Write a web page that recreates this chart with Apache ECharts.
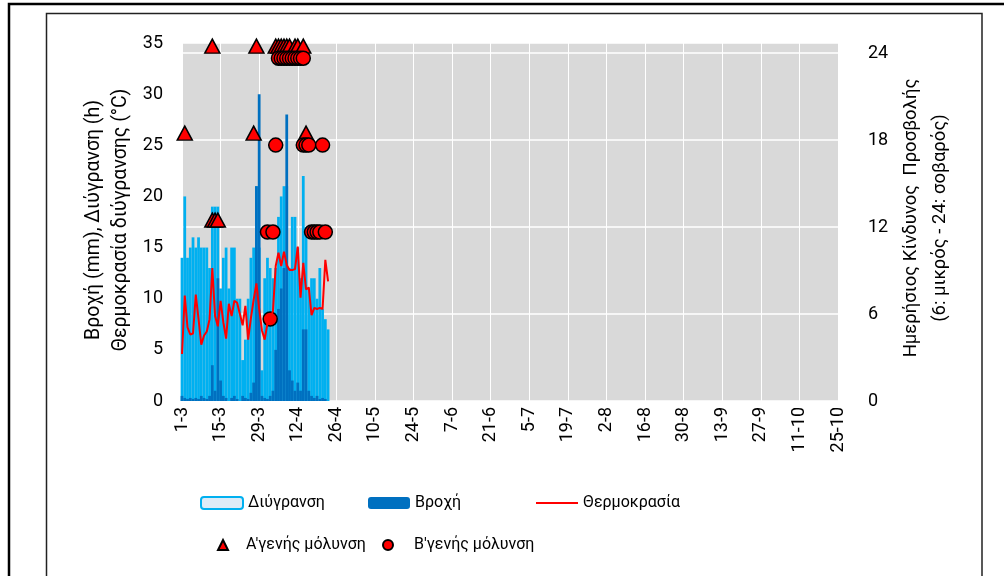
<!DOCTYPE html>
<html>
<head>
<meta charset="utf-8">
<script src="https://cdn.jsdelivr.net/npm/echarts@6/dist/echarts.min.js"></script>
<style>
  html, body { margin: 0; padding: 0; background: #fff; }
  #chart { width: 1004px; height: 576px; }
</style>
</head>
<body>
<div id="chart"></div>
<script>
// day labels 1-3 .. 25-10
const months = [3, 4, 5, 6, 7, 8, 9, 10];
const monthDays = [31, 30, 31, 30, 31, 31, 30, 25];
const days = [];
months.forEach((m, i) => {
  for (let d = 1; d <= monthDays[i]; d++) days.push(d + "-" + m);
});

// daily values from 1-3 onwards
const humidity = [14, 20, 14, 15, 16, 15, 16, 15, 15, 15, 13, 19, 19, 19, 11, 14, 15, 11, 15, 15,
  10, 10, 4, 6, 10, 14, 15, 21, 15, 3, 12, 14, 13, 12, 13, 18, 20, 21, 21, 13,
  18, 18, 15, 12, 22, 17, 11, 12, 12, 10, 13, 9, 8, 7];
const rain = [0.5, 0.3, 0.2, 0.3, 0.2, 0.3, 0.2, 0.5, 0.3, 0.2, 0.5, 3.5, 1, 12, 2, 0.5, 0.3, 0, 0.3, 0.5,
  0.2, 0, 0.5, 0.3, 0.2, 0.8, 1.8, 21, 30, 0.5, 0.3, 0.2, 0.5, 1, 5, 9, 11, 13, 28, 3,
  2, 1, 1.8, 1, 7, 7, 1, 0.5, 0.3, 0.5, 0.2, 0.3, 0.2, 0];
const temperature = [4.6, 10.3, 7.2, 6.5, 6.6, 10.4, 8.0, 5.5, 6.4, 6.8, 8.0, 13.0, 8.3, 7.3, 9.8, 7.7, 6.1, 9.5, 8.3, 9.8,
  9.6, 8.5, 7.4, 9.3, 6.0, 8.1, 9.9, 11.5, 9.0, 6.9, 6.0, 7.6, 8.0, 8.8, 13.2, 14.5, 13.2, 14.6, 13.3, 12.8,
  12.8, 12.9, 15.1, 10.1, 13.5, 10.9, 11.1, 8.4, 9.1, 9.0, 9.1, 9.0, 13.8, 11.7];

// infection risk: [day index, risk level]
const primaryInfection = [[1, 18], [11, 24], [11, 12], [12, 12], [13, 12], [26, 18], [27, 24],
  [34, 24], [35, 24], [36, 24], [37, 24], [38, 24], [39, 24], [41, 24], [42, 24], [44, 24], [45, 18]];
const secondaryInfection = [[31, 12], [33, 12], [32, 6], [34, 18],
  [35, 24], [36, 24], [37, 24], [38, 24], [39, 24], [40, 24], [41, 24], [42, 24], [43, 24], [44, 24],
  [44, 18], [45, 18], [46, 18], [51, 18],
  [47, 12], [48, 12], [49, 12], [50, 12], [52, 12]];

const FONT = "Roboto";
const chart = echarts.init(document.getElementById("chart"));

function legendItem(item, left, top, extra) {
  return Object.assign({
    data: [item], left: left, top: top, padding: 0,
    itemWidth: 42, itemHeight: 12,
    textStyle: { fontFamily: FONT, fontSize: 16, color: "#000" }
  }, extra || {});
}

const option = {
  animation: false,
  textStyle: { fontFamily: FONT },
  grid: {
    left: 182, right: 166, top: 43, bottom: 175,
    show: true, backgroundColor: "#D9D9D9", borderWidth: 0
  },
  legend: [
    legendItem({ name: "Διύγρανση", itemStyle: { color: "#DDEBF7", borderColor: "#00B0F0", borderWidth: 2 } }, 200, 495),
    legendItem("Βροχή", 368, 495),
    legendItem({ name: "Θερμοκρασία", icon: "rect" }, 536, 495, { itemHeight: 2 }),
    legendItem("Α'γενής μόλυνση", 217, 537, {
      itemWidth: 10, itemHeight: 10,
      textStyle: { fontFamily: FONT, fontSize: 16, color: "#000", padding: [0, 0, 0, 13] }
    }),
    legendItem("Β'γενής μόλυνση", 382, 537, {
      itemWidth: 10, itemHeight: 10,
      textStyle: { fontFamily: FONT, fontSize: 16, color: "#000", padding: [0, 0, 0, 16] }
    })
  ],
  xAxis: {
    type: "category",
    data: days,
    boundaryGap: false,
    axisLine: { show: false },
    axisTick: { show: false, interval: 13 },
    axisLabel: { interval: 13, rotate: 90, margin: 6, fontSize: 18, color: "#000", fontFamily: FONT },
    splitLine: { show: true, interval: 13, lineStyle: { color: "#fff", width: 1 } }
  },
  yAxis: [
    {
      type: "value", min: 0, max: 35, interval: 5,
      axisLine: { show: false }, axisTick: { show: false },
      splitLine: { show: false },
      axisLabel: { margin: 19, fontSize: 18, color: "#000", fontFamily: FONT }
    },
    {
      type: "value", min: 0, max: 24.7, interval: 6,
      axisLine: { show: false }, axisTick: { show: false },
      splitLine: { show: true, lineStyle: { color: "#fff", width: 1.5 } },
      axisLabel: {
        margin: 30, fontSize: 18, color: "#000", fontFamily: FONT,
        formatter: v => (v % 6 === 0 ? String(v) : "")
      }
    }
  ],
  graphic: [
    { type: "rect", shape: { x: 9, y: 4, width: 1200, height: 800 },
      style: { fill: "none", stroke: "#000", lineWidth: 2.5 }, silent: true },
    { type: "rect", shape: { x: 46.5, y: 13.5, width: 935.5, height: 800 },
      style: { fill: "none", stroke: "#222", lineWidth: 1.5 }, silent: true },
    { type: "text", x: 108, y: 220, rotation: Math.PI / 2,
      style: { text: "Βροχή (mm), Διύγρανση (h)\nΘερμοκρασία διύγρανσης (°C)",
        fontFamily: FONT, fontSize: 19.5, lineHeight: 27, fill: "#000",
        align: "center", verticalAlign: "middle" } },
    { type: "text", x: 926, y: 218, rotation: Math.PI / 2,
      style: { text: "Ημερήσιος Κίνδυνος  Προσβολής\n(6: μικρός - 24: σοβαρός)",
        fontFamily: FONT, fontSize: 18.5, lineHeight: 29, fill: "#000",
        align: "center", verticalAlign: "middle" } }
  ],
  series: [
    {
      name: "Διύγρανση", type: "bar", data: humidity,
      barCategoryGap: "0%", barGap: "-100%",
      itemStyle: { color: "#DDEBF7", borderColor: "#00B0F0", borderWidth: 2 }
    },
    {
      name: "Βροχή", type: "bar", data: rain,
      barCategoryGap: "0%", barGap: "-100%",
      itemStyle: { color: "#0070C0" }
    },
    {
      name: "Θερμοκρασία", type: "line", data: temperature,
      symbol: "none", lineStyle: { color: "#FF0000", width: 2 },
      itemStyle: { color: "#FF0000" }
    },
    {
      name: "Α'γενής μόλυνση", type: "scatter", yAxisIndex: 1, data: primaryInfection,
      symbol: "triangle", symbolSize: [15, 14], symbolOffset: [0, -7],
      itemStyle: { color: "#FF0000", borderColor: "#000", borderWidth: 1.5, opacity: 1 }
    },
    {
      name: "Β'γενής μόλυνση", type: "scatter", yAxisIndex: 1, data: secondaryInfection,
      symbol: "circle", symbolSize: 14, symbolOffset: [0, 5],
      itemStyle: { color: "#FF0000", borderColor: "#000", borderWidth: 1.5, opacity: 1 }
    }
  ]
};
chart.setOption(option);
</script>
</body>
</html>
